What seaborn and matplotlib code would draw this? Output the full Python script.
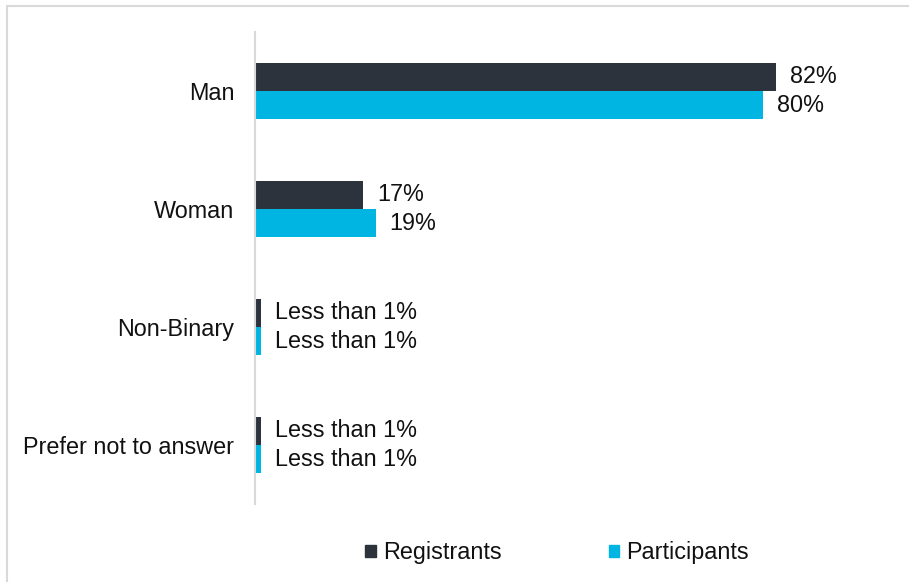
import matplotlib
matplotlib.use("Agg")
import matplotlib.pyplot as plt
from matplotlib.lines import Line2D
import seaborn as sns
import pandas as pd

# Gender breakdown of registrants vs. participants
categories = ["Man", "Woman", "Non-Binary", "Prefer not to answer"]
registrants = [82, 17, 0.9, 0.9]
participants = [80, 19, 0.9, 0.9]
registrant_labels = ["82%", "17%", "Less than 1%", "Less than 1%"]
participant_labels = ["80%", "19%", "Less than 1%", "Less than 1%"]
series_names = ["Registrants", "Participants"]
colors = ["#2d333d", "#00b5e2"]

df = pd.DataFrame({
    "Gender": categories * 2,
    "Share": registrants + participants,
    "Group": [series_names[0]] * len(categories) + [series_names[1]] * len(categories),
})

sns.set_theme(style="white")
plt.rcParams["font.family"] = ["Liberation Sans", "DejaVu Sans"]
FS = 16.8

W, H = 909, 582
fig = plt.figure(figsize=(W / 100, H / 100), dpi=100)
ax = fig.add_axes([255 / W, 1 - 504 / H, (905 - 255) / W, (504 - 32) / H])

sns.barplot(data=df, y="Gender", x="Share", hue="Group", hue_order=series_names,
            palette=colors, orient="h", width=0.475, ax=ax, legend=False,
            edgecolor="none", saturation=1)

ax.set_xlim(0, 102.3)
ax.set_ylim(3.5, -0.5)

for container, labels in zip(ax.containers, [registrant_labels, participant_labels]):
    ax.bar_label(container, labels=labels, padding=10, fontsize=FS, color="#111111")

for side in ["top", "right", "bottom"]:
    ax.spines[side].set_visible(False)
ax.spines["left"].set_color("#d9d9d9")
ax.spines["left"].set_linewidth(1.5)
ax.set_xticks([])
ax.set_xlabel("")
ax.set_ylabel("")
ax.tick_params(axis="y", length=0, pad=15, labelsize=FS, labelcolor="#111111")

handles = [plt.Rectangle((0, 0), 1, 1, color=c) for c in colors]
fig.legend(handles, series_names, loc="center", bbox_to_anchor=(557 / W, 1 - 553 / H),
           ncol=2, frameon=False, fontsize=FS, handlelength=0.45, handleheight=0.45,
           handletextpad=0.3, columnspacing=4.6, labelcolor="#111111")

# Outer frame edges
fig.add_artist(Line2D([7.5 / W, 7.5 / W], [0, 1 - 5.5 / H], transform=fig.transFigure,
                      color="#d9d9d9", linewidth=1.5))
fig.add_artist(Line2D([7.5 / W, 1], [1 - 5.5 / H, 1 - 5.5 / H], transform=fig.transFigure,
                      color="#d9d9d9", linewidth=1.5))

fig.savefig("out.png", dpi=100, facecolor="white")
